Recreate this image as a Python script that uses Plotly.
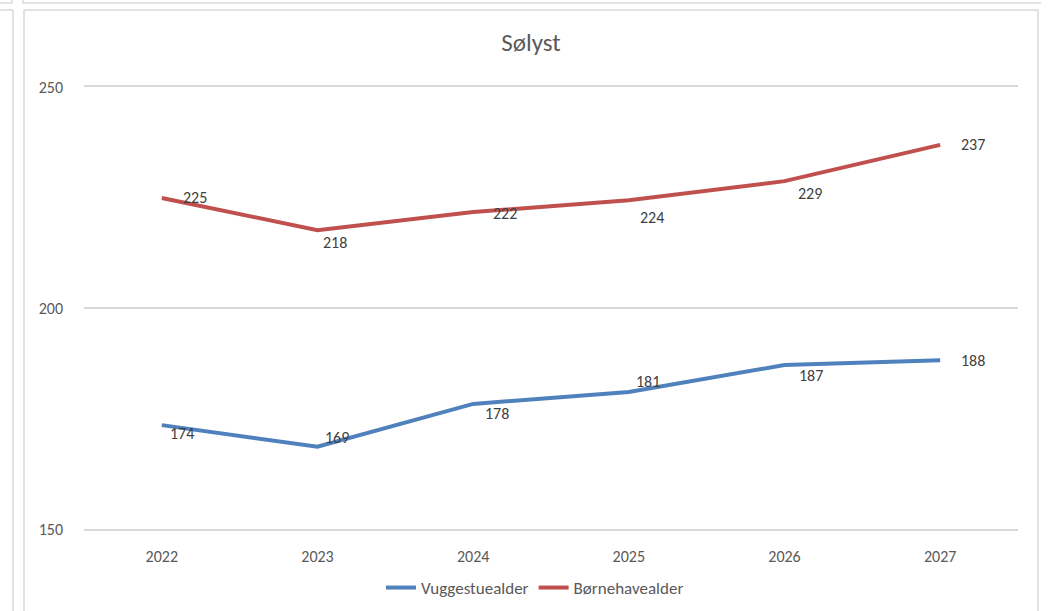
import plotly.graph_objects as go

years = ["2022", "2023", "2024", "2025", "2026", "2027"]
vuggestue = [173.5, 168.6, 178.3, 181.0, 187.1, 188.2]
vuggestue_labels = ["174", "169", "178", "181", "187", "188"]
boernehave = [224.9, 217.6, 221.7, 224.4, 228.7, 236.9]
boernehave_labels = ["225", "218", "222", "224", "229", "237"]
y_ticks = [150, 200, 250]

# label offsets (px) - style only
v_dx = [20, 19, 24, 19, 26, 33]
v_dy = [-8, 9, -10, 10, -10, 0]
b_dx = [33, 17, 32, 23, 25, 33]
b_dy = [0, -12, -1, -17, -12, 0]

FONT = "Carlito, Lato, sans-serif"
GRID = "#d9d9d9"
TXT = "#595959"

ML, MR, MT, MB = 84, 32, 87, 82
W, H = 1050, 611
PW, PH = W - ML - MR, H - MT - MB

def px(x):
    return (x - ML) / PW

def py(y):
    return (H - MB - y) / PH

fig = go.Figure()
fig.add_trace(go.Scatter(x=years, y=vuggestue, mode="lines", name="Vuggestuealder",
                         line=dict(color="#4f81bd", width=4)))
fig.add_trace(go.Scatter(x=years, y=boernehave, mode="lines", name="Børnehavealder",
                         line=dict(color="#c0504d", width=4)))

annots = []
for labs, vals, dxs, dys in [(vuggestue_labels, vuggestue, v_dx, v_dy),
                             (boernehave_labels, boernehave, b_dx, b_dy)]:
    for i in range(len(years)):
        annots.append(go.layout.Annotation(
            x=i, y=vals[i], xref="x", yref="y", text=labs[i],
            showarrow=False, xshift=dxs[i], yshift=dys[i], visible=True,
            font=dict(size=16, color="#404040")))

line_style = dict(color=GRID, width=1.5)
def seg(x0, y0, x1, y1, kind="line"):
    fig.add_shape(type=kind, xref="paper", yref="paper", x0=px(x0), x1=px(x1),
                  y0=py(y0), y1=py(y1), line=line_style, layer="above")

seg(24, 10, 1038, 640, "rect")
seg(23, 3, 1041, 3)
seg(0, 3, 12, 3)
seg(0, 10, 13, 10)
seg(13, 10, 13, 640)
seg(12, 0, 12, 3)
seg(23, 0, 23, 3)

fig.update_layout(
    width=W, height=H,
    margin=dict(l=ML, r=MR, t=MT, b=MB, autoexpand=False),
    paper_bgcolor="white", plot_bgcolor="white",
    title=dict(text="Sølyst", xref="container", x=531 / W, xanchor="center",
               yref="container", y=1 - 42 / H, yanchor="middle",
               font=dict(family=FONT, size=25, color=TXT)),
    font=dict(family=FONT, size=16, color=TXT),
    xaxis=dict(type="category", range=[-0.5, 5.5], showgrid=False,
               showline=True, mirror=True, linecolor=GRID, linewidth=1.5,
               zeroline=False, ticks="", tickfont=dict(family=FONT, size=16, color=TXT),
               ticklabelstandoff=12),
    yaxis=dict(range=[150, 250], tickvals=y_ticks, showgrid=True, gridcolor=GRID, gridwidth=1.5,
               zeroline=False, showline=False, ticks="",
               tickfont=dict(family=FONT, size=16, color=TXT), ticklabelstandoff=20),
    legend=dict(orientation="h", x=px(535), xanchor="center", y=py(588), yanchor="middle",
                font=dict(family=FONT, size=17, color=TXT), itemwidth=30),
    annotations=annots,
    showlegend=True,
)

fig.write_html("out.html", config={"displayModeBar": False},
               post_script="document.body.style.margin='0';document.body.style.overflow='hidden';")
